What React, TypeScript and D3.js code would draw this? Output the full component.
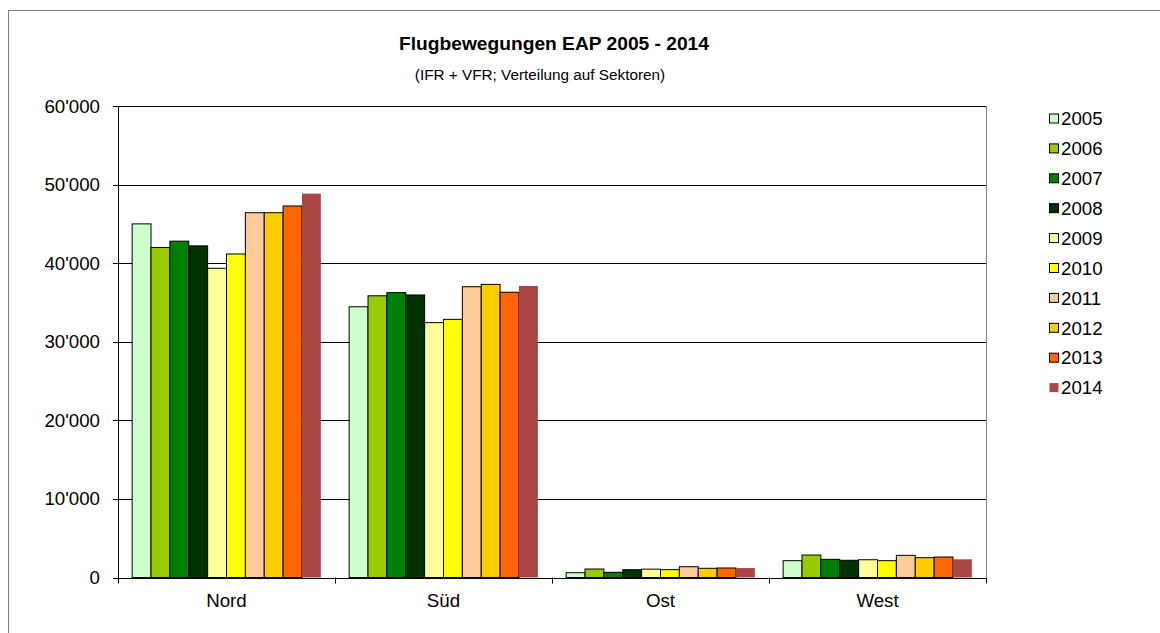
import React from 'react';
import * as d3 from 'd3';

const categories = ['Nord', 'Süd', 'Ost', 'West'];
const years = ['2005', '2006', '2007', '2008', '2009', '2010', '2011', '2012', '2013', '2014'];
const colors = ['#CCFFCC', '#99CC00', '#008000', '#003300', '#FFFF99', '#FFFF00', '#FFCC99', '#FFCC00', '#FF6600', '#AA4646'];

// values per year: [Nord, Süd, Ost, West]
const v2005 = [45000, 34450, 610, 2140];
const v2006 = [42000, 35850, 1080, 2860];
const v2007 = [42800, 36250, 660, 2310];
const v2008 = [42200, 35950, 990, 2190];
const v2009 = [39350, 32430, 1060, 2260];
const v2010 = [41170, 32850, 1000, 2140];
const v2011 = [46420, 37000, 1370, 2820];
const v2012 = [46420, 37300, 1170, 2520];
const v2013 = [47280, 36300, 1210, 2610];
const v2014 = [48850, 37100, 1200, 2310];
const series = [v2005, v2006, v2007, v2008, v2009, v2010, v2011, v2012, v2013, v2014];

const yTicks = [0, 10000, 20000, 30000, 40000, 50000, 60000];

const font = '"Liberation Sans", Arial, sans-serif';

const App = () => {
  const left = 118;
  const right = 986;
  const top = 106;
  const bottom = 577.5;

  const x0 = d3.scaleBand().domain(categories).range([left, right]);
  const x1 = d3.scaleBand().domain(years).range([0, x0.bandwidth()]).paddingInner(0).paddingOuter(0.75);
  const y = d3.scaleLinear().domain([0, 60000]).range([bottom, top]);
  const fmt = (d) => (d === 0 ? '0' : d3.format(',')(d).replace(/,/g, "'"));

  return (
    <svg width={1160} height={633} style={{ position: 'absolute', left: 0, top: 0, fontFamily: font }}>
      <rect x={0} y={0} width={1160} height={633} fill="#fff" />
      <rect x={8.5} y={10.5} width={1160} height={640} fill="none" stroke="#808080" />
      <text x={554} y={50} textAnchor="middle" fontSize={19.2} fontWeight="bold">Flugbewegungen EAP 2005 - 2014</text>
      <text x={540} y={80} textAnchor="middle" fontSize={15.3}>(IFR + VFR; Verteilung auf Sektoren)</text>

      {/* gridlines */}
      {yTicks.map((t) => (
        <g key={t}>
          <line x1={left - 5} x2={right} y1={Math.round(y(t)) + 0.5} y2={Math.round(y(t)) + 0.5} stroke="#000" />
          <text x={100} y={y(t)} dy="0.35em" textAnchor="end" fontSize={18.7}>{fmt(t)}</text>
        </g>
      ))}
      <line x1={right + 0.5} x2={right + 0.5} y1={top} y2={bottom} stroke="#808080" />

      {/* bars */}
      {categories.map((c, ci) => (
        <g key={c} transform={`translate(${x0(c)},0)`}>
          {years.map((yr, i) => {
            const val = series[i][ci];
            return (
              <rect
                key={yr}
                x={x1(yr)}
                y={y(val)}
                width={x1.bandwidth()}
                height={bottom - y(val)}
                fill={colors[i]}
                stroke={yr === '2014' ? 'none' : '#000'}
                strokeWidth={1}
              />
            );
          })}
        </g>
      ))}

      {/* axes */}
      <line x1={left + 0.5} x2={left + 0.5} y1={top} y2={bottom} stroke="#000" />
      <line x1={left} x2={right} y1={Math.round(bottom) + 0.5} y2={Math.round(bottom) + 0.5} stroke="#000" />
      {categories.map((c) => (
        <text key={c} x={x0(c) + x0.bandwidth() / 2} y={607} textAnchor="middle" fontSize={18.7}>{c}</text>
      ))}
      {[...categories.map((c) => x0(c)), right].map((xv, i) => (
        <line key={i} x1={Math.round(xv) + 0.5} x2={Math.round(xv) + 0.5} y1={bottom} y2={bottom + 6} stroke="#000" />
      ))}

      {/* legend */}
      {years.map((yr, i) => (
        <g key={yr} transform={`translate(1049,${118.5 + i * 29.9})`}>
          <rect x={0.5} y={-4.5} width={9} height={9} fill={colors[i]} stroke={yr === '2014' ? 'none' : '#000'} />
          <text x={12} y={0} dy="0.36em" fontSize={18.7}>{yr}</text>
        </g>
      ))}
    </svg>
  );
};

export default App;
